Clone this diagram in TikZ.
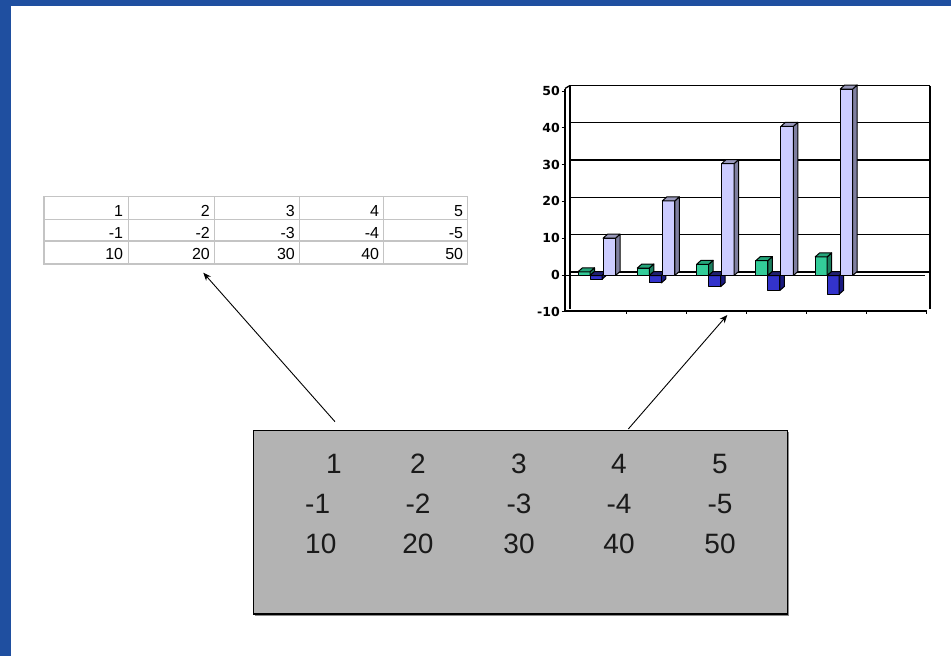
\documentclass[tikz,border=0pt]{standalone}
\usepackage{fontspec}
\setmainfont{Liberation Sans}
\newfontfamily\axfont{DejaVu Sans}
\usetikzlibrary{arrows.meta}
\definecolor{frameblue}{HTML}{1F4FA0}
\definecolor{gridgray}{HTML}{C4C4C4}
\definecolor{boxgray}{HTML}{B3B3B3}
\definecolor{boxtext}{HTML}{1A1A1A}
\definecolor{shadowgray}{HTML}{8A8A8A}
\definecolor{greenF}{HTML}{33CC99}
\definecolor{greenS}{HTML}{1B7F5F}
\definecolor{greenT}{HTML}{25A57A}
\definecolor{blueF}{HTML}{3333CC}
\definecolor{blueS}{HTML}{1A1A80}
\definecolor{blueT}{HTML}{202070}
\definecolor{lavF}{HTML}{CCCCFF}
\definecolor{lavS}{HTML}{7F7FA0}
\definecolor{lavT}{HTML}{9999BB}
\tikzset{
  bluebar/.style={fill=frameblue},
  tgrid/.style={draw=gridgray, line width=1.3pt},
  tcell/.style={font=\fontsize{16}{18}\selectfont, inner sep=0pt, anchor=base east},
  boxtxt/.style={font=\fontsize{28}{30}\selectfont, text=boxtext, inner sep=0pt},
  srcbox/.style={draw=black, line width=1.8pt, fill=boxgray, inner sep=0pt},
  arr/.style={-{Stealth[length=8pt,width=6.5pt]}, line width=0.9pt, black},
  wall/.style={line width=1.3pt, black},
  barline/.style={draw=black, line width=1pt, line join=round},
  axlab/.style={font=\axfont\bfseries\fontsize{12.5}{12.5}\selectfont, inner sep=0pt, anchor=east},
}
\newcommand\chartbar[6]{%
  \pgfmathsetmacro\bxa{#1}%
  \pgfmathsetmacro\bxb{#1+#2}%
  \pgfmathsetmacro\byv{275.5-3.73*(#3)}%
  \pgfmathsetmacro\bytop{min(275.5,\byv)}%
  \pgfmathsetmacro\bybot{max(275.5,\byv)}%
  \filldraw[fill=#4,barline] (\bxa,\bytop) rectangle (\bxb,\bybot);
  \filldraw[fill=#5,barline] (\bxb,\bytop) -- (\bxb+4.5,\bytop-4) -- (\bxb+4.5,\bybot-4) -- (\bxb,\bybot) -- cycle;
  \filldraw[fill=#6,barline] (\bxa,\bytop) -- (\bxa+4.5,\bytop-4) -- (\bxb+4.5,\bytop-4) -- (\bxb,\bytop) -- cycle;
}
\begin{document}
\begin{tikzpicture}[x=1pt,y=-1pt]
\useasboundingbox (0,0) rectangle (951,656);
\fill[white] (0,0) rectangle (951,656);
\fill[bluebar] (0,0) rectangle (951,6);
\fill[bluebar] (0,0) rectangle (11,656);

% ---------- small spreadsheet table ----------
\node[tgrid, minimum width=423.4pt, minimum height=67.3pt, inner sep=0pt, anchor=north west] (tbl) at (43.3,196) {};
\foreach \x in {128.3,214.3,299.3,383.3}
  \draw[tgrid] (\x,196) -- (\x,263.3);
\foreach \y in {219.3,241}
  \draw[tgrid] (43.3,\y) -- (466.7,\y);
\foreach \xr/\a/\b/\c [count=\i] in {123.3/1/-1/10, 210/2/-2/20, 295/3/-3/30, 379.3/4/-4/40, 463.3/5/-5/50}{
  \node[tcell] (ta\i) at (\xr,216) {\a};
  \node[tcell] (tb\i) at (\xr,238) {\b};
  \node[tcell] (tc\i) at (\xr,259.5) {\c};
}

% ---------- 3D column chart ----------
\foreach \v in {0,10,20,30,40,50}
  \draw[wall] (570,272-3.73*\v) -- (930,272-3.73*\v);
\draw[wall] (570,85.5) -- (570,309.3);
\draw[wall] (930,85.5) -- (930,309.3);
\draw[wall] (565,88.5) -- (570,85.5);
\draw[wall] (565,88.5) -- (565,312);
\draw[wall] (565,275.5) -- (925,275.5);
\foreach \v [count=\i] in {50,40,30,20,10,0,-10}{
  \node[axlab] (yl\i) at (560,275-3.68*\v) {\v};
  \draw[line width=1pt] (561.5,275-3.68*\v) -- (565,275-3.68*\v);
}
\draw[line width=2pt] (565,311) -- (927,311);
\foreach \x in {626,686,746,806,866,926}
  \draw[line width=1pt] (\x,311) -- (\x,314);
\foreach \i in {0,...,4}{
  \pgfmathsetmacro\gx{578+59.3*\i}
  \chartbar{\gx}{12}{\i+1}{greenF}{greenS}{greenT}
  \chartbar{\gx+12}{12}{-(\i+1)}{blueF}{blueS}{blueT}
  \chartbar{\gx+25}{12.5}{10*(\i+1)}{lavF}{lavS}{lavT}
}

% ---------- grey source box ----------
\fill[shadowgray] (254.5,431.5) rectangle (788.5,615.5);
\node[srcbox, minimum width=534pt, minimum height=183.5pt, anchor=north west] (src) at (252.5,429.5) {};
\node[boxtxt, anchor=base] (s11) at (334,473.3) {1};
\node[boxtxt, anchor=base] (s12) at (418,473.3) {2};
\node[boxtxt, anchor=base] (s13) at (519,473.3) {3};
\node[boxtxt, anchor=base] (s14) at (619,473.3) {4};
\node[boxtxt, anchor=base] (s15) at (720,473.3) {5};
\node[boxtxt, anchor=base west] (s21) at (305,513.3) {-1};
\node[boxtxt, anchor=base] (s22) at (418,513.3) {-2};
\node[boxtxt, anchor=base] (s23) at (519,513.3) {-3};
\node[boxtxt, anchor=base] (s24) at (619,513.3) {-4};
\node[boxtxt, anchor=base] (s25) at (720,513.3) {-5};
\node[boxtxt, anchor=base west] (s31) at (305,553.3) {10};
\node[boxtxt, anchor=base] (s32) at (418,553.3) {20};
\node[boxtxt, anchor=base] (s33) at (519,553.3) {30};
\node[boxtxt, anchor=base] (s34) at (619,553.3) {40};
\node[boxtxt, anchor=base] (s35) at (720,553.3) {50};

% ---------- arrows ----------
\coordinate (a1s) at (335,421.7);
\coordinate (tblpt) at (203.3,272.7);
\coordinate (a2s) at (628.3,429);
\coordinate (chartpt) at (727.3,315);
\draw[arr] (a1s) -- (tblpt);
\draw[arr] (a2s) -- (chartpt);
\end{tikzpicture}
\end{document}
